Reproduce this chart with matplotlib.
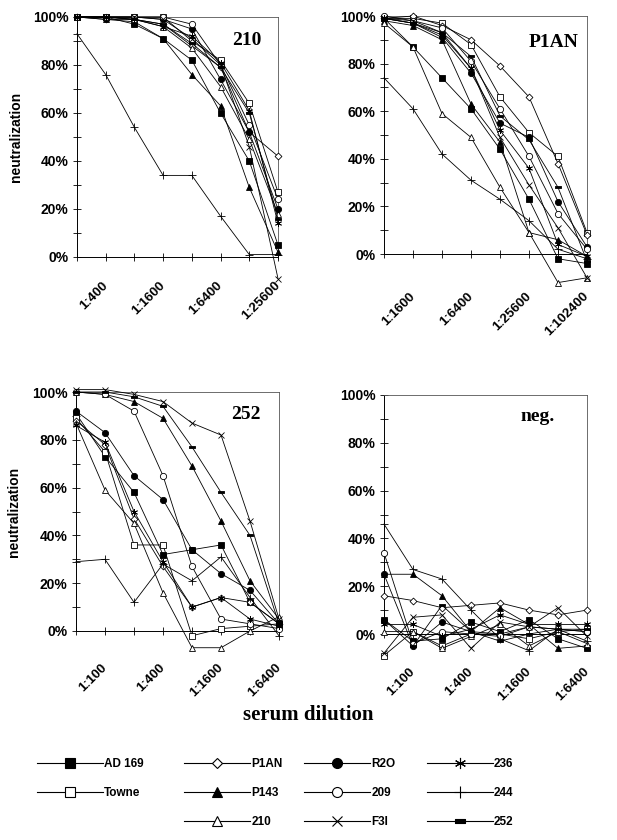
import matplotlib
matplotlib.use("Agg")
import matplotlib.pyplot as plt
from matplotlib.lines import Line2D

plt.rcParams["font.family"] = ["Liberation Sans", "DejaVu Sans"]

W, H = 617, 840

strains = ["AD 169", "Towne", "P1AN", "P143", "210", "R2O", "209", "F3I", "236", "244", "252"]

# dilution steps (2-fold) per panel
dil_210 = ["1:200", "1:400", "1:800", "1:1600", "1:3200", "1:6400", "1:12800", "1:25600"]
dil_p1an = ["1:800", "1:1600", "1:3200", "1:6400", "1:12800", "1:25600", "1:51200", "1:102400"]
dil_252 = ["1:50", "1:100", "1:200", "1:400", "1:800", "1:1600", "1:3200", "1:6400"]
dil_neg = ["1:50", "1:100", "1:200", "1:400", "1:800", "1:1600", "1:3200", "1:6400"]

# % neutralization, rows in the order of `strains`
serum_210 = [
    [100, 100, 97, 91, 82, 60, 40, 5],
    [100, 100, 100, 100, 90, 82, 64, 27],
    [100, 99, 99, 97, 88, 79, 52, 42],
    [100, 99, 98, 91, 76, 63, 29, 2],
    [100, 100, 99, 96, 87, 71, 49, 18],
    [100, 100, 100, 99, 95, 74, 52, 20],
    [100, 100, 100, 100, 97, 80, 55, 24],
    [100, 100, 100, 99, 91, 80, 46, -9],
    [100, 100, 99, 96, 92, 81, 61, 14],
    [93, 76, 54, 34, 34, 17, 1, 1],
    [100, 100, 99, 97, 89, 79, 60, 16],
]
serum_p1an = [
    [99, 87, 74, 61, 44, 23, -2, -4],
    [99, 99, 97, 88, 66, 51, 41, 9],
    [99, 100, 96, 90, 79, 66, 38, 8],
    [98, 96, 90, 63, 47, 9, 6, -1],
    [97, 87, 59, 49, 28, 9, -12, -10],
    [99, 97, 91, 76, 55, 49, 22, 3],
    [100, 98, 95, 81, 61, 41, 17, 2],
    [99, 98, 93, 78, 49, 29, 11, -10],
    [99, 97, 92, 78, 52, 36, 4, -1],
    [74, 61, 42, 31, 23, 14, 2, -2],
    [99, 97, 93, 83, 58, 48, 28, -3],
]
serum_252 = [
    [91, 73, 58, 32, 34, 36, 12, 3],
    [89, 75, 36, 36, -2, 1, 2, 3],
    [88, 78, 47, 27, 10, 14, 12, 3],
    [100, 99, 96, 89, 69, 46, 21, 5],
    [87, 59, 45, 16, -7, -7, 0, 6],
    [92, 83, 65, 55, 34, 24, 17, 3],
    [100, 99, 92, 65, 27, 5, 3, 1],
    [101, 101, 99, 96, 87, 82, 46, 5],
    [86, 79, 50, 29, 10, 14, 5, 2],
    [29, 30, 12, 28, 21, 31, 14, -2],
    [100, 100, 98, 94, 77, 58, 40, 3],
]
serum_neg = [
    [6, -3, -2, 5, 1, 6, -2, -6],
    [-9, 1, -5, 0, 0, -2, 1, 2],
    [16, 14, 11, 12, 13, 10, 8, 10],
    [25, 25, 16, 1, 11, 4, -6, -5],
    [1, 1, -6, -1, 4, -5, 1, -4],
    [25, -5, 5, 1, 0, 3, 2, 1],
    [34, -4, 1, 0, -1, 3, 2, 1],
    [-8, 7, 8, -6, 5, 3, 11, -1],
    [4, 4, -1, 2, 8, 4, 4, 4],
    [46, 27, 23, 10, -2, -7, 2, -3],
    [6, -5, 12, 1, -3, 0, 2, 2],
]

bar = [(-1, -0.35), (1, -0.35), (1, 0.35), (-1, 0.35), (-1, -0.35)]
styles = {
    "AD 169": dict(marker="s", mfc="black", ms=4.5),
    "Towne": dict(marker="s", mfc="white", ms=4.5),
    "P1AN": dict(marker="D", mfc="white", ms=3.5),
    "P143": dict(marker="^", mfc="black", ms=4.5),
    "210": dict(marker="^", mfc="white", ms=4.5),
    "R2O": dict(marker="o", mfc="black", ms=4.5),
    "209": dict(marker="o", mfc="white", ms=4.5),
    "F3I": dict(marker="x", ms=4.5),
    "236": dict(marker=(6, 2, 0), ms=5),
    "244": dict(marker="+", ms=5.5),
    "252": dict(marker=bar, mfc="black", ms=4.5),
}

# panel: (title, dilutions, data, axes rect in px [left, top, right, bottom], title pos, label pad)
panels = [
    ("210", dil_210, serum_210, (77, 17, 278, 257), (0.846, 0.904), 16, True),
    ("P1AN", dil_p1an, serum_p1an, (384, 16, 587, 254), (0.837, 0.887), 26, False),
    ("252", dil_252, serum_252, (76, 392, 279, 631), (0.837, 0.904), 22, True),
    ("neg.", dil_neg, serum_neg, (384, 395, 587, 634), (0.756, 0.912), 23, False),
]

fig = plt.figure(figsize=(W / 100, H / 100), dpi=100)

for title, dil, data, (l, t, r, b), tpos, pad, ylab in panels:
    ax = fig.add_axes([l / W, 1 - b / H, (r - l) / W, (b - t) / H])
    x = list(range(len(dil)))
    for name, vals in zip(strains, data):
        st = dict(styles[name])
        ax.plot(x, vals, color="black", lw=0.6, mec="black", mew=0.6,
                clip_on=False, zorder=3, **st)
    ax.set_xlim(0, len(dil) - 1)
    ax.set_ylim(0, 100)
    ax.set_yticks(range(0, 101, 20))
    ax.set_yticklabels([f"{v}%" for v in range(0, 101, 20)], fontweight="bold", fontsize=10)
    ax.set_yticks(range(10, 100, 20), minor=True)
    ax.set_xticks(x[1::2])
    ax.set_xticklabels(dil[1::2], rotation=45, ha="right", va="center",
                       rotation_mode="anchor", fontweight="bold", fontsize=9.5)
    ax.set_xticks(x[0::2], minor=True)
    ax.tick_params(axis="both", which="both", direction="inout", length=6, width=0.6)
    ax.tick_params(axis="y", pad=3)
    ax.tick_params(axis="x", pad=pad)
    for side in ["left", "bottom"]:
        ax.spines[side].set_linewidth(0.7)
    for side in ["top", "right"]:
        ax.spines[side].set_linewidth(0.6)
        ax.spines[side].set_color("#555555")
    ax.text(tpos[0], tpos[1], title, transform=ax.transAxes, ha="center", va="center",
            fontsize=14, fontweight="bold", family="Liberation Serif")
    if ylab:
        ax.set_ylabel("neutralization", fontweight="bold", fontsize=10)
        ax.yaxis.set_label_coords(-0.27, 0.5)

fig.text(0.5, 1 - 715 / H, "serum dilution", ha="center", va="center",
         fontsize=15, fontweight="bold", family="Liberation Serif")

# legend, four columns
cols = [(["AD 169", "Towne"], 36.7),
        (["P1AN", "P143", "210"], 184.3),
        (["R2O", "209", "F3I"], 304.3),
        (["236", "244", "252"], 426.7)]
for names, xpx in cols:
    handles = []
    for n in names:
        st = dict(styles[n])
        st["ms"] = st["ms"] * 1.6
        handles.append(Line2D([], [], color="black", lw=0.8, mec="black", mew=0.8, **st))
    fig.legend(handles, names, loc="upper left", bbox_to_anchor=(xpx / W, 1 - 758 / H),
               frameon=False, borderpad=0, borderaxespad=0, handlelength=5.6,
               handletextpad=0.1, labelspacing=1.45,
               prop=dict(weight="bold", size=8.5))

fig.savefig("out.png", dpi=100)
